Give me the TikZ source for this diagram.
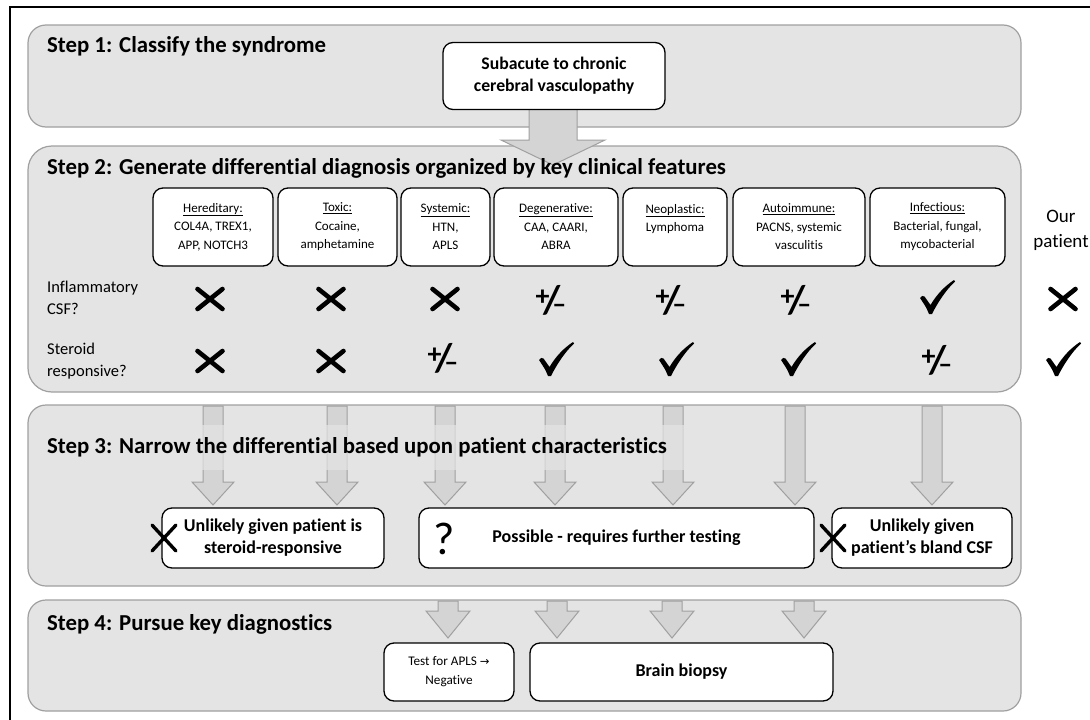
\documentclass[tikz,border=0pt]{standalone}
\usepackage{fontspec}
\setmainfont{Carlito}[Ligatures=NoCommon]
\newfontfamily\symfont{DejaVu Sans}
\definecolor{panelfill}{RGB}{228,228,228}
\definecolor{panelborder}{RGB}{160,160,160}
\definecolor{arrowfill}{RGB}{212,212,212}
\definecolor{arrowborder}{RGB}{160,160,160}
\newcommand{\symPM}{{\bfseries\fontsize{40}{40}\selectfont\raisebox{0.2em}{\fontsize{28}{28}\selectfont +}\kern-0.16em/\kern-0.2em\raisebox{-0.02em}{\fontsize{28}{28}\selectfont –}}}
\newcommand{\barrow}[6]{%
 \filldraw[blockarr] ({#1-#5},#2) -- ({#1+#5},#2) -- ({#1+#5},#3) -- ({#1+#6},#3) -- (#1,#4) -- ({#1-#6},#3) -- ({#1-#5},#3) -- cycle;}
\tikzset{
 panel/.style={draw=panelborder, fill=panelfill, line width=1.2pt, rounded corners=18pt},
 wbox/.style={draw=black, fill=white, line width=1.3pt, rounded corners=10pt, align=center, inner sep=2pt},
 catbox/.style={wbox, minimum height=78pt, font=\fontsize{13}{18.5}\selectfont},
 resbox/.style={wbox, minimum height=60pt, font=\fontsize{18}{22}\selectfont\bfseries},
 blockarr/.style={draw=arrowborder, fill=arrowfill, line width=1pt},
 steptitle/.style={anchor=west, inner sep=0pt, font=\fontsize{22.8}{26}\selectfont\bfseries},
 rowlabel/.style={anchor=west, inner sep=0pt, align=left, font=\fontsize{16.5}{22}\selectfont},
 sym/.style={inner sep=0pt},
 xmark/.pic={\draw[line width=4.6pt, line cap=round] (-12.5,-10) -- (12.5,10) (-12.5,10) -- (12.5,-10);},
 bigx/.pic={\draw[line width=3.4pt, line cap=round] (-12,-13) -- (12,13) (-12,13) -- (12,-13);},
 chk/.pic={\fill (-17,1) .. controls (-15,-1.5) .. (-12.5,-0.5) -- (-6.5,8) .. controls (0,-3) and (8,-11) .. (17,-17) -- (18,-15.5) .. controls (9,-7) and (1,5) .. (-5,17) -- (-8,17) .. controls (-11,10) .. (-17,1) -- cycle;}
}
\begin{document}
\begin{tikzpicture}[x=1pt,y=-1pt]
\useasboundingbox (0,0) rectangle (1090,720);
\fill[white] (0,0) rectangle (1090,720);
\draw[line width=2pt] (10,720) -- (10,7) -- (1090,7);
% panels
\draw[panel] (28,25) rectangle (1021,127);
\draw[panel, rounded corners=24pt] (28,146) rectangle (1021,392);
\draw[panel] (28,405) rectangle (1021,586);
\draw[panel] (28,600) rectangle (1021,711);
% big arrow
\barrow{553}{100}{140}{165}{24}{52}
% step 3 arrows
\foreach \cx in {213,337,445,555,673,795,932} {\barrow{\cx}{406}{482}{505}{10}{21}}
\fill[panelfill, opacity=0.7] (40,425) rectangle (700,470);
% step 4 arrows
\foreach \cx in {448,557,672,804} {\barrow{\cx}{601}{611}{638}{10}{22}}
% titles
\node[steptitle] (t1) at (47,46) {Step 1: Classify the syndrome};
\node[steptitle] (t2) at (47,168) {Step 2: Generate differential diagnosis organized by key clinical features};
\node[steptitle] (t3) at (47,447) {Step 3: Narrow the differential based upon patient characteristics};
\node[steptitle] (t4) at (47,624) {Step 4: Pursue key diagnostics};
% step 1 box
\node[wbox, minimum width=222pt, minimum height=67pt, font=\fontsize{17.7}{22}\selectfont\bfseries] (sub) at (554,76) {Subacute to chronic\\cerebral vasculopathy};
% category boxes
\node[catbox, minimum width=120pt] (her) at (213,227) {\underline{Hereditary:}\\COL4A, TREX1,\\APP, NOTCH3};
\node[catbox, minimum width=119pt] (tox) at (337.5,227) {\underline{Toxic:}\\Cocaine,\\amphetamine};
\node[catbox, minimum width=89pt] (sys) at (445.5,227) {\underline{Systemic:}\\HTN,\\APLS};
\node[catbox, minimum width=124pt] (deg) at (556,227) {\underline{Degenerative:}\\CAA, CAARI,\\ABRA};
\node[catbox, minimum width=104pt] (neo) at (675,227) {\underline{Neoplastic:}\\Lymphoma\\\mbox{}};
\node[catbox, minimum width=132pt] (aut) at (799,227) {\underline{Autoimmune:}\\PACNS, systemic\\vasculitis};
\node[catbox, minimum width=135pt] (inf) at (937.5,227) {\underline{Infectious:}\\Bacterial, fungal,\\mycobacterial};
\node[align=center, font=\fontsize{19}{25}\selectfont] (our) at (1061,230) {Our\\patient};
% row labels
\node[rowlabel] (rl1) at (47,298) {Inflammatory\\CSF?};
\node[rowlabel] (rl2) at (47,361) {Steroid\\responsive?};
% row 1 symbols
\pic at (210,299) {xmark};
\pic at (331,299) {xmark};
\pic at (445,299) {xmark};
\node[sym] (a4) at (551,300) {\symPM};
\node[sym] (a5) at (671,300) {\symPM};
\node[sym] (a6) at (796,300) {\symPM};
\pic at (937,297) {chk};
\pic at (1063,299) {xmark};
% row 2 symbols
\pic at (210,361) {xmark};
\pic at (331,361) {xmark};
\node[sym] (b3) at (443,358) {\symPM};
\pic at (556,359) {chk};
\pic at (676,359) {chk};
\pic at (798,359) {chk};
\node[sym] (b7) at (937,360) {\symPM};
\pic at (1063,359) {chk};
% step 3 boxes
\node[resbox, minimum width=222pt] (r1) at (273,538) {Unlikely given patient is\\steroid-responsive};
\node[resbox, minimum width=395pt] (r2) at (616.5,538) {Possible - requires further testing};
\node[resbox, minimum width=180pt] (r3) at (922,538) {Unlikely given\\patient’s bland CSF};
\pic at (164,538) {bigx};
\node[sym, font=\fontsize{46}{46}\selectfont] (q) at (444,539) {?};
\pic at (833,538) {bigx};
% step 4 boxes
\node[wbox, minimum width=130pt, minimum height=58pt, font=\fontsize{13.2}{19}\selectfont] (apls) at (449,672) {Test for APLS {\symfont\fontsize{11.5}{11}\selectfont →}\\Negative};
\node[resbox, minimum width=303pt, minimum height=58pt] (bx) at (681.5,672) {Brain biopsy};
\end{tikzpicture}
\end{document}
